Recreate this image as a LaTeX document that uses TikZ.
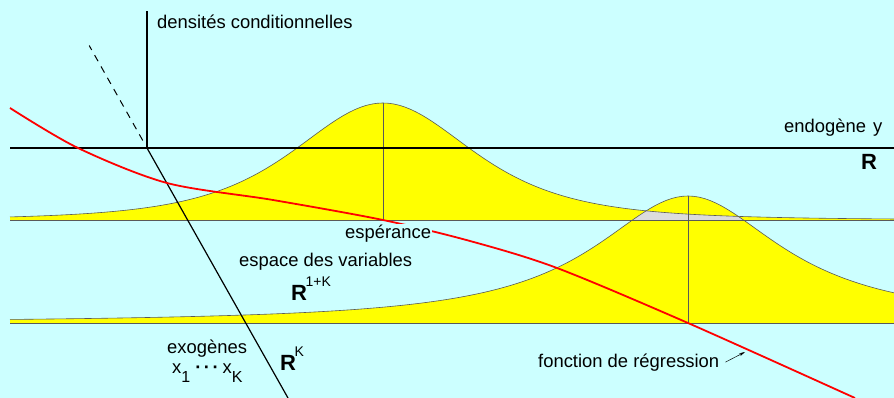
\documentclass[tikz,border=0pt]{standalone}
\usepackage{fontspec}
\setmainfont{Liberation Sans}
\usetikzlibrary{arrows.meta,calc}
\definecolor{fond}{HTML}{CCFFFF}
\definecolor{jaune}{HTML}{FFFF00}
\definecolor{gris}{HTML}{DCDCDC}
\tikzset{
  lbl/.style={font=\fontsize{18.4}{21}\selectfont, inner sep=0pt, anchor=base west},
  courbe/.style={black!65, line width=0.6pt},
  axe/.style={black, line width=1.2pt}
}
\begin{document}
\begin{tikzpicture}[x=1pt,y=-1pt]
\fill[fond] (0,0) rectangle (894,398);
\useasboundingbox (0,0) rectangle (894,398);
% les deux densites
\fill[jaune] (10,220) -- plot[domain=10:894,samples=160] (\x,{220-117/(1+((\x-383)/164)^2)^2}) -- (894,220) -- cycle;
\fill[jaune] (10,323) -- plot[domain=10:894,samples=160] (\x,{323-127/(1+((\x-688)/115)^2)}) -- (894,323) -- cycle;
\begin{scope}
  \clip (10,323) -- plot[domain=10:894,samples=160] (\x,{323-127/(1+((\x-688)/115)^2)}) -- (894,323) -- cycle;
  \fill[gris] (10,220) -- plot[domain=10:894,samples=160] (\x,{220-117/(1+((\x-383)/164)^2)^2}) -- (894,220) -- cycle;
\end{scope}
\draw[courbe] plot[domain=10:894,samples=160] (\x,{220-117/(1+((\x-383)/164)^2)^2});
\draw[courbe] plot[domain=10:894,samples=160] (\x,{323-127/(1+((\x-688)/115)^2)});
\foreach \y in {220,323}
  \draw[courbe] (10,\y) -- (894,\y);
\draw[courbe] (383,103) -- (383,220);
\draw[courbe] (688,196) -- (688,323);
% axes
\coordinate (O) at (147,148);
\coordinate (K) at (288,398);
\draw[axe] (10,148) -- (894,148);
\draw[axe] (O) -- (147,11);
\draw[axe] (O) -- (K);
\draw[black, line width=1pt, dash pattern=on 7pt off 6pt] ($(O)!-0.03!(K)$) -- ($(O)!-0.41!(K)$);
% fonction de regression
\draw[red, line width=1.8pt] plot[smooth] coordinates {(10,108) (78,148) (167,183) (273,200) (383,220) (470,241) (557,268) (688,323) (855,398)};
% textes
\node[lbl] (dens) at (157,29) {densités conditionnelles};
\node[lbl] (endo) at (784,133) {endogène\hspace{7pt}y};
\node[lbl, font=\fontsize{22}{22}\selectfont\bfseries] (r1) at (861,170) {R};
\node[lbl, fill=fond, inner sep=1pt] (esp) at (344,239) {espérance};
\node[lbl] (espace) at (239,266) {espace des variables};
\node[lbl] (r1k) at (291,300) {{\fontsize{22}{22}\selectfont\bfseries R}\kern-1.5pt\raisebox{14pt}{\fontsize{14}{14}\selectfont 1+K}};
\node[lbl] (exo) at (167,353) {exogènes};
\node[lbl] (xk) at (172,373) {x\raisebox{-9pt}{\fontsize{16}{16}\selectfont 1}\hspace{5pt}\textbf{·\kern2.5pt·\kern2.5pt·}\hspace{4pt}x\raisebox{-9pt}{\fontsize{16}{16}\selectfont K}};
\node[lbl] (rk) at (280,370) {{\fontsize{22}{22}\selectfont\bfseries R}\kern-1.5pt\raisebox{14pt}{\fontsize{14}{14}\selectfont K}};
\node[lbl] (regr) at (538,367) {fonction de régression};
\coordinate (pointe) at (745,352);
\draw[-{Stealth[length=6pt,width=3pt]}, line width=0.5pt] ([xshift=6pt]regr.east) -- (pointe);
\end{tikzpicture}
\end{document}
